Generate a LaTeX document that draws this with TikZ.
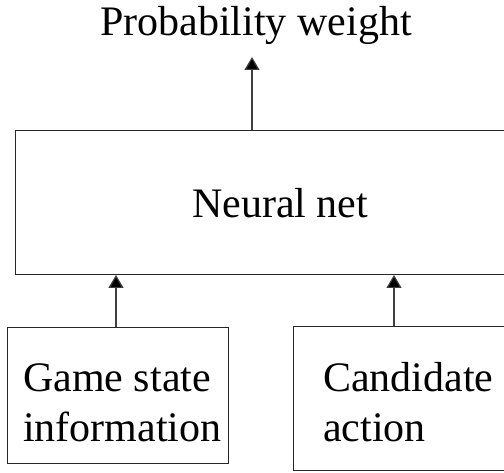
\documentclass[tikz,border=0pt]{standalone}
\usepackage{fontspec}
\setmainfont{Liberation Serif}
\usetikzlibrary{arrows.meta}
\tikzset{
  box/.style={draw=black!85, line width=1.2pt, rectangle, inner sep=0pt},
  lbl/.style={inner sep=0pt, font=\fontsize{42pt}{50pt}\selectfont, align=left},
  arr/.style={draw=black!75, line width=1.2pt, -{Triangle[length=13pt,width=15pt,fill=black]}}
}
\begin{document}
\begin{tikzpicture}[x=1pt,y=1pt]
\clip (0,0) rectangle (504,473);
\fill[white] (0,0) rectangle (504,473);
% boxes
\node[box, anchor=south west, minimum width=530pt, minimum height=144pt] (nn) at (15,198) {};
\node[box, anchor=south west, minimum width=221pt, minimum height=136pt] (gs) at (7,9) {};
\node[box, anchor=south west, minimum width=240pt, minimum height=144pt] (ca) at (293,1.5) {};
% texts
\node[lbl, anchor=base] (pw) at (256,437) {Probability weight};
\node[lbl, anchor=base west] (nnt) at (192,255) {Neural net};
\node[lbl, anchor=base west] (gst) at (23,31) {Game state\\information};
\node[lbl, anchor=base west] (cat) at (323,31) {Candidate\\action};
% connectors
\coordinate (top) at (252,416);
\draw[arr] (nn.north -| top) -- (top);
\draw[arr] ([xshift=109pt]gs.north west) -- ([xshift=109pt]gs.north west |- nn.south);
\draw[arr] ([xshift=101pt]ca.north west) -- ([xshift=101pt]ca.north west |- nn.south);
\end{tikzpicture}
\end{document}
